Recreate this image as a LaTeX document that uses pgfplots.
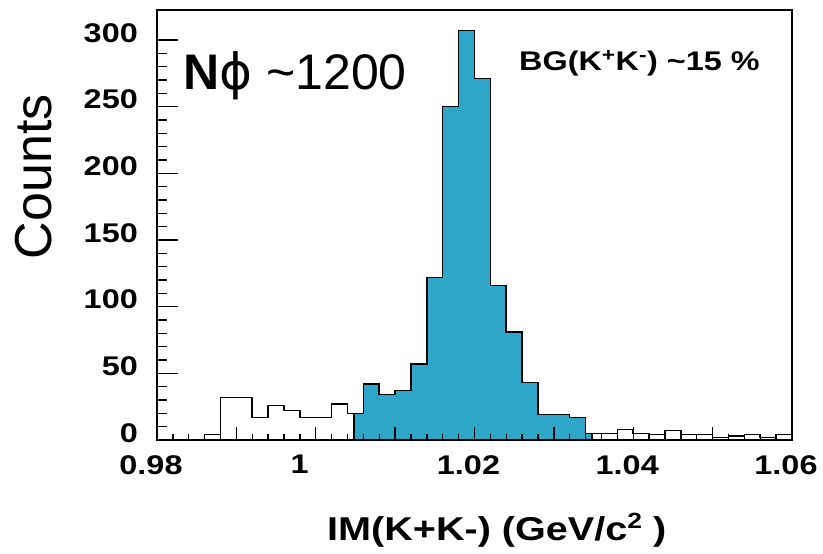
\documentclass[border=0pt]{standalone}
\usepackage{fontspec}
\setmainfont{Liberation Sans}
\newfontfamily\widebold[FakeStretch=1.2]{Liberation Sans}
\newfontfamily\greekfont{DejaVu Sans}
\usepackage{pgfplots}
\pgfplotsset{compat=1.18}

\definecolor{phiblue}{RGB}{46,166,200}

\newcommand{\tickfont}{\fontsize{27}{27}\selectfont\widebold\bfseries}
\newcommand{\titlefont}{\fontsize{33}{33}\selectfont\widebold\bfseries}

% invariant mass spectrum, 2 MeV bins: lower bin edge and counts
\pgfplotstableread{
x      n
0.980  0
0.982  0
0.984  0
0.986  4
0.988  32
0.990  32
0.992  17
0.994  26
0.996  22
0.998  17
1.000  17
1.002  27
1.004  20
1.006  42
1.008  34
1.010  37
1.012  57
1.014  122
1.016  250
1.018  307
1.020  271
1.022  116
1.024  81
1.026  43
1.028  19
1.030  19
1.032  17
1.034  5
1.036  5
1.038  8
1.040  5
1.042  4
1.044  7
1.046  4
1.048  4
1.050  2
1.052  3
1.054  4
1.056  2
1.058  4
1.060  4
}\spectrum

\begin{document}
\begin{tikzpicture}
\begin{axis}[
  scale only axis,
  width=635pt, height=430pt,
  xmin=0.98, xmax=1.06, ymin=0, ymax=322.5,
  axis on top,
  axis line style={line width=1.6pt},
  xtick={0.98,0.99,1.00,1.01,1.02,1.03,1.04,1.05,1.06},
  xticklabels={0.98,,{\kern-20pt 1},,1.02,,1.04,,1.06},
  minor x tick num=4,
  ytick={0,50,100,150,200,250,300},
  yticklabels={0,50,100,150,200,250,300},
  minor y tick num=4,
  xtick pos=bottom, ytick pos=left,
  tick align=inside,
  tick style={line width=1.3pt, black},
  xtick style={/pgfplots/major tick length=13pt, /pgfplots/minor tick length=6pt},
  ytick style={/pgfplots/major tick length=21pt, /pgfplots/minor tick length=10pt},
  xticklabel style={font=\tickfont, anchor=north, inner sep=0pt, yshift=-15pt, xshift=-6pt},
  yticklabel style={font=\tickfont, anchor=east, inner sep=0pt, xshift=-19pt, yshift=7pt},
  xlabel={IM(K+K-) (GeV/c\raisebox{0.35em}{\fontsize{22}{22}\selectfont 2} )},
  xlabel style={at={(axis description cs:0.535,-0.2326)}, anchor=base, font=\titlefont, inner sep=0pt},
  ylabel={Counts},
  ylabel style={at={(axis description cs:-0.1937,0.612)}, anchor=center, font=\fontsize{52}{52}\selectfont, inner sep=0pt},
]
% signal window around the phi mass
\addplot[const plot, fill=phiblue, draw=black, line width=1.4pt] coordinates {
  (1.0048,20) (1.006,42) (1.008,34) (1.010,37) (1.012,57) (1.014,122)
  (1.016,250) (1.018,307) (1.020,271) (1.022,116) (1.024,81) (1.026,43)
  (1.028,19) (1.030,19) (1.032,17) (1.034,5) (1.0348,5)
} \closedcycle;
% full spectrum
\addplot[const plot, black, line width=1.5pt] table[x=x, y=n] {\spectrum};

\node[anchor=base west, inner sep=0pt, font=\fontsize{50}{50}\selectfont]
  at (rel axis cs:0.041,0.814) {\textbf{N}{\greekfont ϕ} \textasciitilde1200};
\node[anchor=base west, inner sep=0pt, font=\fontsize{27}{27}\selectfont\widebold\bfseries]
  at (rel axis cs:0.570,0.860) {BG(K\textsuperscript{+}K\textsuperscript{-}) \textasciitilde15 \%};
\end{axis}
\path (current axis.south west) ++(-157pt,-114pt) rectangle ++(823pt,554pt);
\end{tikzpicture}
\end{document}
